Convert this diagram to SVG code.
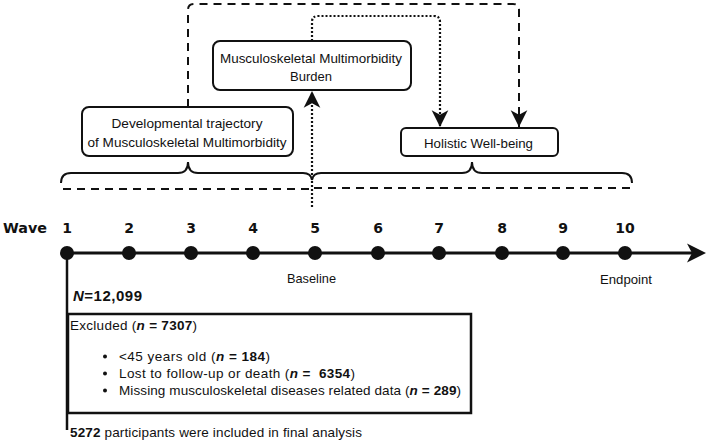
<svg xmlns="http://www.w3.org/2000/svg" width="709" height="443" viewBox="0 0 709 443">
<style>
text{font-family:"Liberation Sans",Arial,sans-serif;fill:#111}
.n{font-size:13.5px}
.b{font-weight:bold}
.i{font-style:italic}
.w{font-family:"DejaVu Sans","Liberation Sans",sans-serif;font-size:14px;font-weight:bold;text-anchor:middle}
.box{fill:#fff;stroke:#111;stroke-width:2}
.dash{fill:none;stroke:#111;stroke-width:2;stroke-dasharray:8 6}
.dot{fill:none;stroke:#111;stroke-width:2.2;stroke-dasharray:2 2}
.solid{fill:none;stroke:#111;stroke-width:2}
</style>
<defs>
<marker id="ah" markerUnits="userSpaceOnUse" markerWidth="20" markerHeight="20" viewBox="-16 -9 18 18" refX="0" refY="0" orient="auto">
<path d="M0,0 L-15,-7.5 L-11,0 L-15,7.5 Z" fill="#111"/>
</marker>
</defs>
<g id="connectors">
<path class="dash" d="M188,107 L188,10 Q188,4 194,4 L513,4 Q519,4 519,10 L519,127" marker-end="url(#ah)"/>
<path class="dot" d="M312,41 L312,22 Q312,16 318,16 L434,16 Q440,16 440,22 L440,127" marker-end="url(#ah)"/>
<path class="dot" d="M312,207 L312,91" marker-end="url(#ah)"/>
</g>
<g id="node-dev">
<rect class="box" x="82" y="107" width="211" height="49" rx="7"/>
<text class="n" x="187" y="128" text-anchor="middle" textLength="151" lengthAdjust="spacingAndGlyphs">Developmental trajectory</text>
<text class="n" x="187" y="147" text-anchor="middle" textLength="199" lengthAdjust="spacingAndGlyphs">of Musculoskeletal Multimorbidity</text>
</g>
<g id="node-burden">
<rect class="box" x="213" y="41" width="198" height="49" rx="7"/>
<text class="n" x="311" y="63" text-anchor="middle" textLength="182" lengthAdjust="spacingAndGlyphs">Musculoskeletal Multimorbidity</text>
<text class="n" x="311" y="81" text-anchor="middle" textLength="42" lengthAdjust="spacingAndGlyphs">Burden</text>
</g>
<g id="node-holistic">
<rect class="box" x="401" y="128" width="157" height="28" rx="5"/>
<text class="n" x="478.5" y="148" text-anchor="middle" textLength="109" lengthAdjust="spacingAndGlyphs">Holistic Well-being</text>
</g>
<g id="braces">
<path class="solid" d="M61,183 Q61,173 71,173 L178,173 Q188,173 188,162 Q188,173 198,173 L303,173 Q311,173 312,180"/>
<path class="solid" d="M312,180 Q313,173 321,173 L462,173 Q472,173 472,162 Q472,173 482,173 L622,173 Q632,173 632,183"/>
<path class="dash" d="M63,189 L312,189"/>
<path class="dash" d="M314,188 L632,188"/>
</g>
<g id="timeline">
<line x1="67" y1="253" x2="692" y2="253" stroke="#111" stroke-width="3"/>
<path d="M706,253 L687,243.5 L692,253 L687,262.5 Z" fill="#111"/>
<line x1="67" y1="253" x2="67" y2="430" stroke="#111" stroke-width="2.5"/>
<g fill="#111">
<circle cx="67" cy="253" r="7"/><circle cx="129" cy="253" r="7"/><circle cx="191" cy="253" r="7"/><circle cx="253" cy="253" r="7"/><circle cx="315" cy="253" r="7"/>
<circle cx="378" cy="253" r="7"/><circle cx="439" cy="253" r="7"/><circle cx="502" cy="253" r="7"/><circle cx="563" cy="253" r="7"/><circle cx="625" cy="253" r="7"/>
</g>
<text x="3" y="233" style="font-family:'DejaVu Sans','Liberation Sans',sans-serif" font-size="14.5" class="b" textLength="44" lengthAdjust="spacingAndGlyphs">Wave</text>
<text class="w" x="67" y="233">1</text><text class="w" x="129" y="233">2</text><text class="w" x="191" y="233">3</text><text class="w" x="253" y="233">4</text><text class="w" x="315" y="233">5</text>
<text class="w" x="378" y="233">6</text><text class="w" x="439" y="233">7</text><text class="w" x="502" y="233">8</text><text class="w" x="563" y="233">9</text><text class="w" x="625" y="233">10</text>
<text x="311.5" y="283" font-size="13" text-anchor="middle" textLength="49" lengthAdjust="spacingAndGlyphs">Baseline</text>
<text x="626" y="284" font-size="13" text-anchor="middle" textLength="52" lengthAdjust="spacingAndGlyphs">Endpoint</text>
<text x="73" y="301" font-size="15" class="b" textLength="69"><tspan class="i">N</tspan>=12,099</text>
</g>
<g id="node-excluded">
<rect x="68" y="314" width="403" height="99" fill="none" stroke="#111" stroke-width="2.5"/>
<text class="n" x="70" y="330" textLength="127">Excluded (<tspan class="b i">n</tspan><tspan class="b"> = 7307</tspan>)</text>
<g fill="#111"><circle cx="105" cy="356.5" r="2"/><circle cx="105" cy="373.5" r="2"/><circle cx="105" cy="390.5" r="2"/></g>
<text class="n" x="119" y="361" textLength="151">&lt;45 years old (<tspan class="b i">n</tspan><tspan class="b"> = 184</tspan>)</text>
<text class="n" x="119" y="378" textLength="236">Lost to follow-up or death (<tspan class="b i">n</tspan><tspan class="b"> = </tspan><tspan class="b" dx="4">6354</tspan>)</text>
<text class="n" x="119" y="395" textLength="342">Missing musculoskeletal diseases related data (<tspan class="b i">n</tspan><tspan class="b"> = 289</tspan>)</text>
</g>
<g id="node-final">
<text class="n" x="70" y="437" textLength="292"><tspan class="b">5272</tspan> participants were included in final analysis</text>
</g>
</svg>
